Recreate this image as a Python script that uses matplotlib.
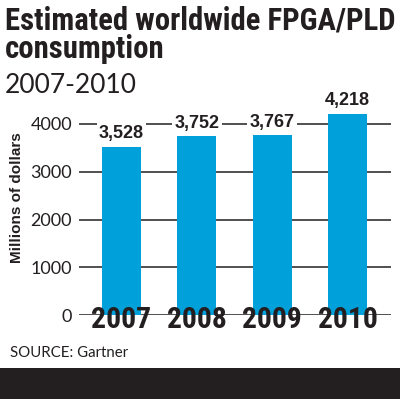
import matplotlib
matplotlib.use("Agg")
import matplotlib.pyplot as plt
from matplotlib import font_manager as fm
from matplotlib.patches import Rectangle

# ---- data ----
years = ["2007", "2008", "2009", "2010"]
values = [3528, 3752, 3767, 4218]
value_labels = ["3,528", "3,752", "3,767", "4,218"]
yticks = [0, 1000, 2000, 3000, 4000]
title_lines = ["Estimated worldwide FPGA/PLD", "consumption"]
subtitle = "2007-2010"
ylabel = "Millions of dollars"
source = "SOURCE: Gartner"

# ---- fonts ----
names = {f.name for f in fm.fontManager.ttflist}
def first(*cands):
    for c in cands:
        if c in names:
            return c
    return "DejaVu Sans"
cond = first("Liberation Sans Narrow", "DejaVu Sans Condensed", "Roboto Condensed", "Liberation Sans")
light = first("Lato", "Open Sans", "Noto Sans", "DejaVu Sans")
light_w = "normal"
regular = first("Liberation Sans", "DejaVu Sans")
ink = "#231f20"

W, H = 400, 399
fig = plt.figure(figsize=(W / 100, H / 100), dpi=100)
fig.patch.set_facecolor("white")

def fx(px):
    return px / W
def fy(py):
    return 1 - py / H

# axes placement: x 79..391 px, y=0 at 315 px, 47.75 px per 1000
ytop = 4600
ppk = 47.75
ax_h = ytop / 1000 * ppk
ax = fig.add_axes([fx(79), (H - 315) / H, 312 / W, ax_h / H])
spacing = 75.3
ax.set_xlim(-(121.5 - 79) / spacing, 3 + (391 - 347.5) / spacing)
ax.set_ylim(0, ytop)

bar_color = "#00A0DA"
x = list(range(len(years)))
ax.bar(x, values, width=0.52, color=bar_color, zorder=2)

for s in ax.spines.values():
    s.set_visible(False)
ax.set_yticks(yticks)
ax.set_yticklabels([str(t) for t in yticks], fontsize=13, family=light,
                   fontweight=light_w, color=ink)
ax.tick_params(axis="y", length=0, pad=5)
ax.set_xticks([])
for t in yticks:
    ax.axhline(t, color=ink, lw=1.1, zorder=1)

for xi, v, lab in zip(x, values, value_labels):
    ax.annotate(lab, (xi, v), xytext=(0, 3), textcoords="offset points",
                ha="center", va="bottom", fontsize=13, fontweight="bold",
                family=regular, color=ink, zorder=4,
                bbox=dict(facecolor="white", edgecolor="none", pad=1.5))

renderer = fig.canvas.get_renderer()

def fit(t, target_px):
    bb = t.get_window_extent(renderer=renderer)
    t.set_fontsize(t.get_fontsize() * target_px / bb.width)

# category labels over the baseline
for xi, yr in zip(x, years):
    t = ax.text(xi, 0, yr, ha="center", va="baseline", fontsize=22,
                fontweight="heavy", family=cond, color=ink, zorder=5,
                transform=ax.transData)
    fit(t, 60)
    t.set_position((xi, -(328 - 315) / ppk * 1000))
    t.set_clip_on(False)

# titles
t1 = fig.text(fx(5), fy(29), title_lines[0], ha="left", va="baseline",
              fontsize=24, fontweight="bold", family=cond, color=ink)
fit(t1, 392)
t2 = fig.text(fx(5), fy(58), title_lines[1], ha="left", va="baseline",
              fontsize=t1.get_fontsize(), fontweight="bold", family=cond,
              color=ink)
t3 = fig.text(fx(5), fy(93), subtitle, ha="left", va="baseline",
              fontsize=20, fontweight=light_w, family=light, color=ink)
fit(t3, 132)

fig.text(fx(17), fy(198), ylabel, rotation=90, ha="center", va="center",
         fontsize=11, fontweight="bold", family=regular, color=ink)

ts = fig.text(fx(10), fy(357), source, ha="left", va="baseline",
              fontsize=10, family=light, color=ink)
fit(ts, 118)

fig.patches.append(Rectangle((0, 0), 1, (H - 368) / H, transform=fig.transFigure,
                             facecolor=ink, edgecolor="none", zorder=0))

fig.savefig("out.png", dpi=100)
